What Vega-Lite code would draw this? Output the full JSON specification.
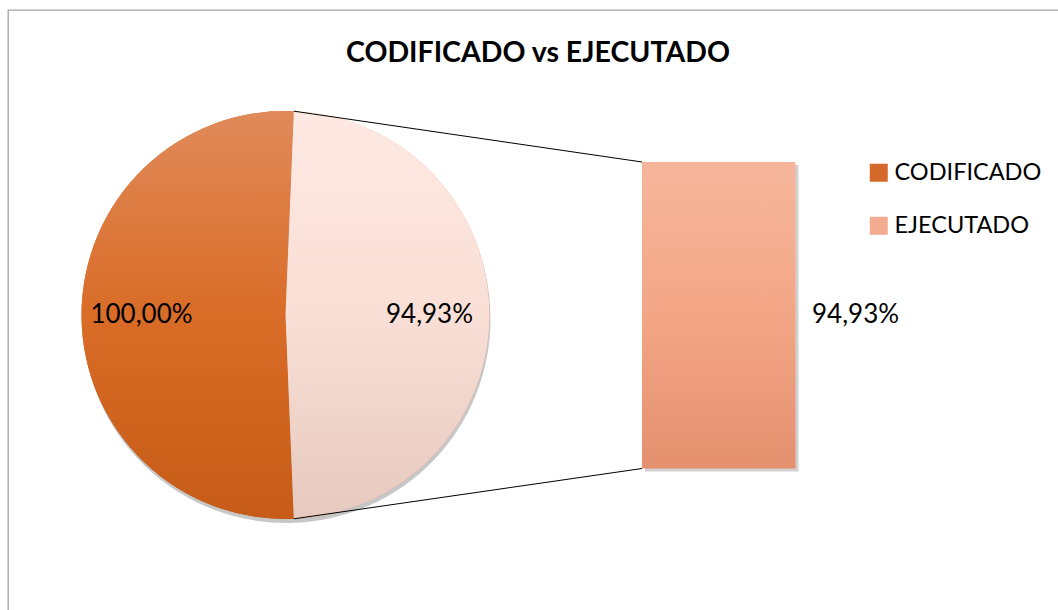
{
  "$schema": "https://vega.github.io/schema/vega-lite/v6.json",
  "width": 1050,
  "height": 600,
  "autosize": {"type": "none"},
  "padding": {"left": 8, "top": 10, "right": 0, "bottom": 0},
  "background": "#ffffff",
  "config": {
    "view": {"stroke": "#A3A3A3", "strokeWidth": 1.3, "strokeDash": [1050, 1650, 600, 0]},
    "locale": {"number": {"decimal": ",", "thousands": ".", "grouping": [3], "currency": ["", " €"]}},
    "font": "Lato"
  },
  "title": {
    "text": "CODIFICADO vs EJECUTADO",
    "font": "Lato",
    "fontSize": 28.5,
    "fontWeight": "bold",
    "color": "#000000",
    "anchor": "middle",
    "baseline": "alphabetic",
    "offset": 0,
    "dy": 80,
    "dx": 5
  },
  "data": {
    "values": [
      {"categoria": "CODIFICADO", "valor": 1.0},
      {"categoria": "EJECUTADO", "valor": 0.9493}
    ]
  },
  "layer": [
    {
      "layer": [
        {
          "mark": {"type": "arc", "radius": 204},
          "encoding": {
            "theta": {"field": "valor", "type": "quantitative", "stack": true, "scale": {"range": [0.04084, 6.32403]}},
            "order": {"field": "categoria", "sort": "descending"},
            "color": {
              "field": "categoria",
              "type": "nominal",
              "scale": {"domain": ["CODIFICADO", "EJECUTADO"], "range": ["#D5692A", "#F3AC8F"]},
              "legend": {
                "title": null,
                "orient": "none",
                "legendX": 859,
                "legendY": 151,
                "padding": 0,
                "symbolType": "square",
                "symbolSize": 324,
                "symbolStrokeWidth": 0,
                "labelFont": "Lato",
                "labelFontSize": 23.5,
                "labelColor": "#000000",
                "labelOffset": 4,
                "rowPadding": 28
              }
            },
            "x": {"datum": 0, "type": "quantitative", "scale": {"domain": [-1.3603, 3.7868], "nice": false, "zero": false}, "axis": null},
            "y": {"datum": 0, "type": "quantitative", "scale": {"domain": [-1.4461, 1.4951], "nice": false, "zero": false}, "axis": null}
          }
        },
        {
          "mark": {"type": "arc", "radius": 204, "fill": "#000000", "opacity": 0.22, "xOffset": 1, "yOffset": 4},
          "encoding": {
            "theta": {"field": "valor", "type": "quantitative", "stack": true},
            "order": {"field": "categoria", "sort": "descending"},
            "detail": {"field": "categoria"},
            "x": {"datum": 0, "type": "quantitative", "scale": {"domain": [-1.3603, 3.7868], "nice": false, "zero": false}, "axis": null},
            "y": {"datum": 0, "type": "quantitative", "scale": {"domain": [-1.4461, 1.4951], "nice": false, "zero": false}, "axis": null}
          }
        },
        {
          "mark": {"type": "arc", "radius": 204},
          "encoding": {
            "theta": {"field": "valor", "type": "quantitative", "stack": true},
            "order": {"field": "categoria", "sort": "descending"},
            "detail": {"field": "categoria"},
            "fill": {
              "condition": {
                "test": "datum.categoria === 'CODIFICADO'",
                "value": {"gradient": "linear", "x1": 0, "y1": 0, "x2": 0, "y2": 1, "stops": [
                  {"offset": 0, "color": "#E08A5A"},
                  {"offset": 0.5, "color": "#D96C27"},
                  {"offset": 1, "color": "#C65C17"}
                ]}
              },
              "value": {"gradient": "linear", "x1": 0, "y1": 0, "x2": 0, "y2": 1, "stops": [
                {"offset": 0, "color": "#FDE9E2"},
                {"offset": 0.5, "color": "#F9DFD6"},
                {"offset": 1, "color": "#E6C9BF"}
              ]}
            },
            "x": {"datum": 0, "type": "quantitative", "scale": {"domain": [-1.3603, 3.7868], "nice": false, "zero": false}, "axis": null},
            "y": {"datum": 0, "type": "quantitative", "scale": {"domain": [-1.4461, 1.4951], "nice": false, "zero": false}, "axis": null}
          }
        },
        {
          "mark": {"type": "text", "radius": 144, "font": "Lato", "fontSize": 26, "color": "#000000", "align": "center", "baseline": "middle"},
          "encoding": {
            "theta": {"field": "valor", "type": "quantitative", "stack": true},
            "order": {"field": "categoria", "sort": "descending"},
            "detail": {"field": "categoria"},
            "text": {"field": "valor", "type": "quantitative", "format": ".2%"},
            "x": {"datum": 0, "type": "quantitative", "scale": {"domain": [-1.3603, 3.7868], "nice": false, "zero": false}, "axis": null},
            "y": {"datum": 0, "type": "quantitative", "scale": {"domain": [-1.4461, 1.4951], "nice": false, "zero": false}, "axis": null}
          }
        },
        {
          "transform": [{"filter": "datum.categoria === 'EJECUTADO'"}],
          "mark": {"type": "rule", "color": "#000000", "strokeWidth": 1},
          "encoding": {
            "x": {"datum": 0.0408, "type": "quantitative", "scale": {"domain": [-1.3603, 3.7868], "nice": false, "zero": false}, "axis": null},
            "y": {"datum": 0.9992, "type": "quantitative", "scale": {"domain": [-1.4461, 1.4951], "nice": false, "zero": false}, "axis": null},
            "x2": {"datum": 1.7475},
            "y2": {"datum": 0.75}
          }
        },
        {
          "transform": [{"filter": "datum.categoria === 'EJECUTADO'"}],
          "mark": {"type": "rule", "color": "#000000", "strokeWidth": 1},
          "encoding": {
            "x": {"datum": 0.0408, "type": "quantitative", "scale": {"domain": [-1.3603, 3.7868], "nice": false, "zero": false}, "axis": null},
            "y": {"datum": -0.9992, "type": "quantitative", "scale": {"domain": [-1.4461, 1.4951], "nice": false, "zero": false}, "axis": null},
            "x2": {"datum": 1.7475},
            "y2": {"datum": -0.7525}
          }
        }
      ]
    },
    {
      "transform": [{"filter": "datum.categoria === 'EJECUTADO'"}],
      "layer": [
        {
          "mark": {"type": "rect", "color": "#000000", "opacity": 0.18, "xOffset": 3, "x2Offset": 3, "yOffset": 3, "y2Offset": 3},
          "encoding": {
            "x": {"datum": 1.7475, "type": "quantitative", "scale": {"domain": [-1.3603, 3.7868], "nice": false, "zero": false}, "axis": null},
            "x2": {"datum": 2.5},
            "y": {"field": "valor", "type": "quantitative", "scale": {"domain": [-0.4383, 1.4201], "nice": false, "zero": false}, "axis": null},
            "y2": {"datum": 0}
          }
        },
        {
          "mark": {"type": "rect", "fill": {"gradient": "linear", "x1": 0, "y1": 0, "x2": 0, "y2": 1, "stops": [
            {"offset": 0, "color": "#F6B69C"},
            {"offset": 0.5, "color": "#F3A686"},
            {"offset": 1, "color": "#E4906F"}
          ]}},
          "encoding": {
            "x": {"datum": 1.7475, "type": "quantitative", "scale": {"domain": [-1.3603, 3.7868], "nice": false, "zero": false}, "axis": null},
            "x2": {"datum": 2.5},
            "y": {"field": "valor", "type": "quantitative", "scale": {"domain": [-0.4383, 1.4201], "nice": false, "zero": false}, "axis": null},
            "y2": {"datum": 0}
          }
        },
        {
          "mark": {"type": "text", "font": "Lato", "fontSize": 26, "color": "#000000", "align": "left", "baseline": "middle"},
          "encoding": {
            "x": {"datum": 2.581, "type": "quantitative", "scale": {"domain": [-1.3603, 3.7868], "nice": false, "zero": false}, "axis": null},
            "y": {"datum": 0.4747, "type": "quantitative", "scale": {"domain": [-0.4383, 1.4201], "nice": false, "zero": false}, "axis": null},
            "text": {"field": "valor", "type": "quantitative", "format": ".2%"}
          }
        }
      ]
    }
  ],
  "resolve": {"scale": {"y": "independent"}}
}
